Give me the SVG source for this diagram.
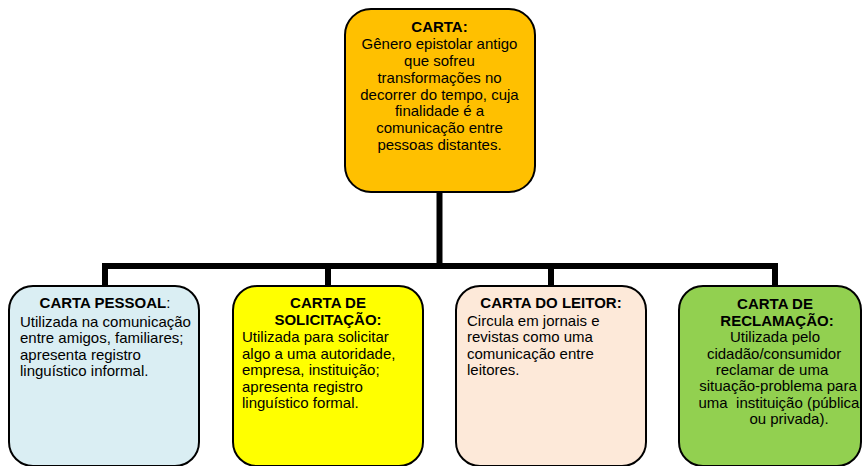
<svg xmlns="http://www.w3.org/2000/svg" width="862" height="466" viewBox="0 0 862 466">
<style>
.box{stroke:#000;stroke-width:2}
.t{font-family:"Liberation Sans",Arial,sans-serif;font-size:15px;fill:#000}
.b{font-weight:bold}
.c{text-anchor:middle}
.conn{fill:none;stroke:#000;stroke-width:6;stroke-linejoin:miter;stroke-linecap:butt}
</style>
<rect width="862" height="466" fill="#fff"/>
<g id="connectors">
<path class="conn" d="M439.5 192 V266"/>
<path class="conn" d="M105 287 V266 H775 V287"/>
<path class="conn" d="M328 266 V287"/>
<path class="conn" d="M551 266 V287"/>
</g>
<g id="carta">
<rect class="box" x="345" y="9" width="190" height="183" rx="26" fill="#FFC000"/>
<text class="t c"><tspan class="b" x="439.5" y="32">CARTA:</tspan><tspan x="439.5" y="49">Gênero epistolar antigo</tspan><tspan x="439.5" y="66">que sofreu</tspan><tspan x="439.5" y="83">transformações no</tspan><tspan x="439.5" y="99.5">decorrer do tempo, cuja</tspan><tspan x="439.5" y="116">finalidade é a</tspan><tspan x="439.5" y="133">comunicação entre</tspan><tspan x="439.5" y="149.5">pessoas distantes.</tspan></text>
</g>
<g id="pessoal">
<rect class="box" x="9" y="286" width="190" height="180" rx="24" fill="#DAEEF3"/>
<text class="t c" x="105" y="308"><tspan class="b">CARTA PESSOAL</tspan>:</text>
<text class="t"><tspan x="20" y="326.5">Utilizada na comunicação</tspan><tspan x="20" y="343">entre amigos, familiares;</tspan><tspan x="20" y="359.5">apresenta registro</tspan><tspan x="20" y="376">linguístico informal.</tspan></text>
</g>
<g id="solicitacao">
<rect class="box" x="233" y="286" width="190" height="180" rx="24" fill="#FFFF00"/>
<text class="t c b"><tspan x="328" y="308">CARTA DE</tspan><tspan x="328" y="325">SOLICITAÇÃO:</tspan></text>
<text class="t"><tspan x="242" y="342">Utilizada para solicitar</tspan><tspan x="242" y="358.5">algo a uma autoridade,</tspan><tspan x="242" y="375">empresa, instituição;</tspan><tspan x="242" y="391.5">apresenta registro</tspan><tspan x="242" y="408">linguístico formal.</tspan></text>
</g>
<g id="leitor">
<rect class="box" x="456" y="286" width="190" height="180" rx="24" fill="#FDE9D9"/>
<text class="t c b" x="551" y="308">CARTA DO LEITOR:</text>
<text class="t"><tspan x="467" y="325.5">Circula em jornais e</tspan><tspan x="467" y="342">revistas como uma</tspan><tspan x="467" y="358.5">comunicação entre</tspan><tspan x="467" y="375">leitores.</tspan></text>
</g>
<g id="reclamacao">
<rect class="box" x="679" y="286" width="182" height="180" rx="24" fill="#92D050"/>
<text class="t c b"><tspan x="775" y="309">CARTA DE</tspan><tspan x="777" y="325.5">RECLAMAÇÃO:</tspan></text>
<text class="t c"><tspan x="775" y="342">Utilizada pelo</tspan><tspan x="774" y="358.5">cidadão/consumidor</tspan><tspan x="772" y="374.5">reclamar de uma</tspan><tspan x="778" y="391">situação-problema para</tspan><tspan x="779" y="407.5" xml:space="preserve">uma  instituição (pública</tspan><tspan x="789" y="423.5">ou privada).</tspan></text>
</g>
</svg>
